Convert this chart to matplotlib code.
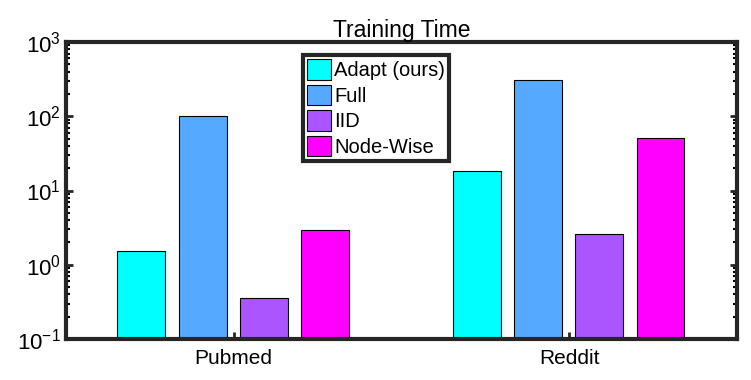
import numpy as np
from matplotlib import pyplot as plt
from matplotlib.ticker import LogLocator, NullFormatter

plt.rcParams['font.family'] = 'Liberation Sans'
plt.rcParams['mathtext.fontset'] = 'custom'
plt.rcParams['mathtext.rm'] = 'Liberation Sans'
plt.rcParams['mathtext.it'] = 'Liberation Sans'

datasets = ["Pubmed", "Reddit"]
methods = ["Adapt (ours)", "Full", "IID", "Node-Wise"]
colors = ["#00ffff", "#55aaff", "#aa55ff", "#ff00ff"]
times = {
    "Adapt (ours)": [1.55, 18.4],
    "Full": [100, 310],
    "IID": [0.36, 2.6],
    "Node-Wise": [2.95, 51],
}

fig = plt.figure(figsize=(7.51, 3.80), dpi=100)
ax = fig.add_axes([66/751, 1-339/380, (737-66)/751, (339-42)/380])

x = np.arange(1, len(datasets)+1)
offsets = [-0.275, -0.092, 0.09, 0.272]
for m, c, off in zip(methods, colors, offsets):
    ax.bar(x+off, times[m], width=0.143, color=c, edgecolor="black", linewidth=0.8, label=m)

ax.set_yscale("log")
ax.set_ylim(0.1, 1000)
ax.set_xlim(0.5, 2.5)
ax.set_xticks(x)
ax.set_xticklabels(datasets)
ax.yaxis.set_major_locator(LogLocator(base=10, numticks=10))
ax.yaxis.set_minor_locator(LogLocator(base=10, subs=np.arange(2, 10), numticks=10))
ax.yaxis.set_minor_formatter(NullFormatter())
ax.tick_params(axis="both", which="major", direction="in", length=5, width=2, labelsize=16,
               right=True, top=False, colors="#262626")
ax.tick_params(axis="both", which="minor", direction="in", length=3, width=1.5, right=True)
ax.tick_params(axis="x", labelsize=15, pad=7)
ax.tick_params(labelcolor="black")
for s in ax.spines.values():
    s.set_linewidth(3)
    s.set_color("#262626")
ax.set_title("Training Time", fontsize=16.5, pad=3)

leg = ax.legend(loc="upper left", bbox_to_anchor=((303-66)/671, 1-(55-42)/297),
                fontsize=14.5, frameon=True, fancybox=False, framealpha=1,
                handlelength=1.2, handleheight=1.2,
                handletextpad=0.15, borderpad=0.2, labelspacing=0.22, borderaxespad=0)
leg.get_frame().set_edgecolor("#262626")
leg.get_frame().set_linewidth(3)

fig.savefig("out.png", dpi=100)
